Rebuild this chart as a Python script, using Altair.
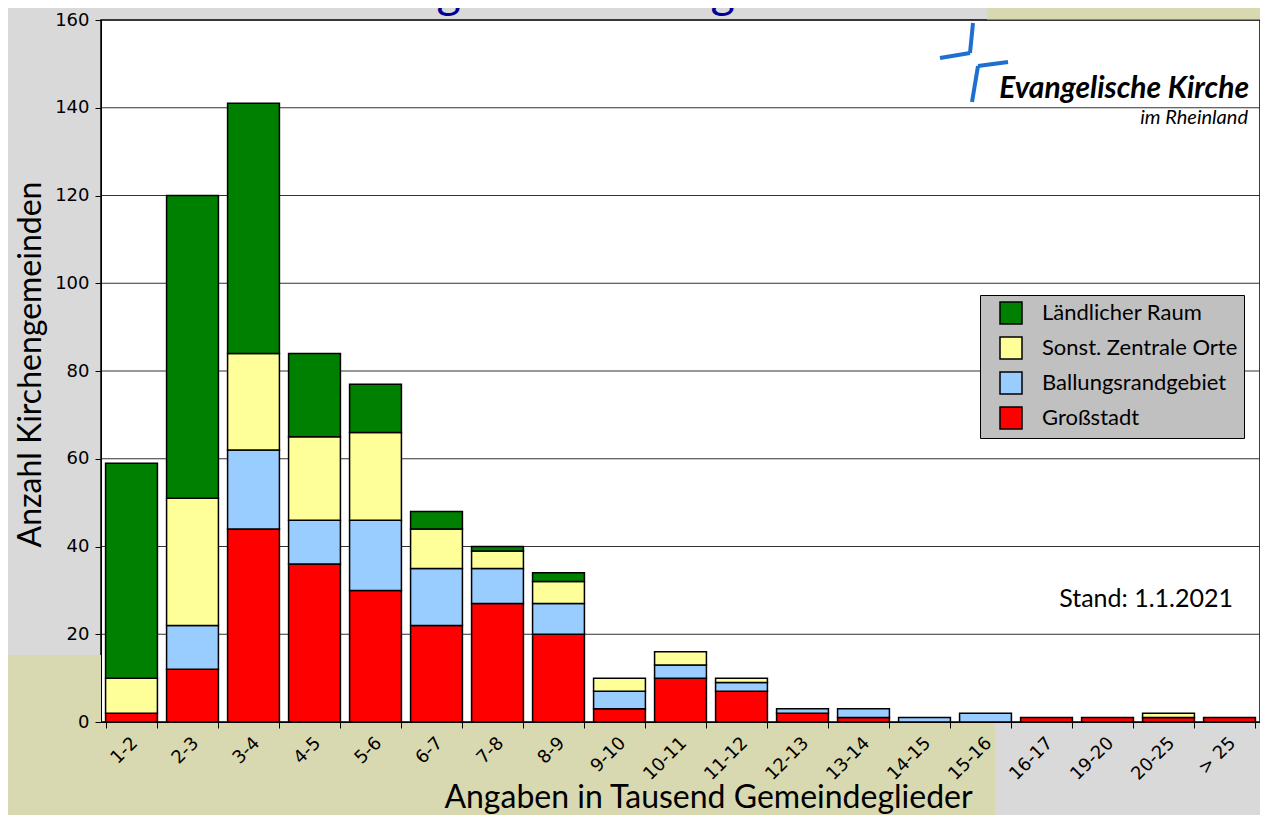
import altair as alt
import pandas as pd

# ---------------- data ----------------
categories = ["1-2", "2-3", "3-4", "4-5", "5-6", "6-7", "7-8", "8-9", "9-10", "10-11",
              "11-12", "12-13", "13-14", "14-15", "15-16", "16-17", "19-20", "20-25", "> 25"]
grossstadt = [2, 12, 44, 36, 30, 22, 27, 20, 3, 10, 7, 2, 1, 0, 0, 1, 1, 1, 1]
ballungsrand = [0, 10, 18, 10, 16, 13, 8, 7, 4, 3, 2, 1, 2, 1, 2, 0, 0, 0, 0]
zentrale_orte = [8, 29, 22, 19, 20, 9, 4, 5, 3, 3, 1, 0, 0, 0, 0, 0, 0, 1, 0]
laendlich = [49, 69, 57, 19, 11, 4, 1, 2, 0, 0, 0, 0, 0, 0, 0, 0, 0, 0, 0]

series_names = ["Ländlicher Raum", "Sonst. Zentrale Orte", "Ballungsrandgebiet", "Großstadt"]
series_colors = ["#008000", "#ffff99", "#99ccff", "#ff0000"]
y_ticks = [0, 20, 40, 60, 80, 100, 120, 140, 160]

title_text = "Größenverteilung der Kirchengemeinden"
stand_text = "Stand: 1.1.2021"
logo_line1 = "Evangelische Kirche"
logo_line2 = "im Rheinland"
x_title = "Angaben in Tausend Gemeindeglieder"
y_title = "Anzahl Kirchengemeinden"

stack_series = [("Großstadt", grossstadt), ("Ballungsrandgebiet", ballungsrand),
                ("Sonst. Zentrale Orte", zentrale_orte), ("Ländlicher Raum", laendlich)]
rows = []
for idx, (name, vals) in enumerate(stack_series):
    for c, v in zip(categories, vals):
        if v > 0:
            rows.append({"Kategorie": c, "Gebiet": name, "Anzahl": v, "Stapel": idx})
df = pd.DataFrame(rows)

W, H = 1159, 702
KHAKI = "#d8d9b1"
one = pd.DataFrame({"k": [0]})

y_scale = alt.Scale(domain=[0, 160], nice=False)
y_axis = alt.Axis(values=y_ticks, grid=False, tickSize=6, tickColor="black",
                  domainColor="black", labelFont="DejaVu Sans", labelFontSize=18,
                  labelColor="black", labelPadding=6, title=y_title, titleFont="Lato",
                  titleFontSize=32, titleFontWeight="normal", titleColor="black",
                  titleAngle=270, titleX=-71, titleY=344, titleAlign="center",
                  titleBaseline="middle", zindex=1)

# ---------------- decoration ----------------
def rect(x, x2, y, y2, color):
    return alt.Chart(one).mark_rect(color=color).encode(
        x=alt.value(x), x2=alt.value(x2), y=alt.value(y), y2=alt.value(y2))

deco = [
    rect(-93, 0, 635, 800, KHAKI),
    rect(-93, 894, H, 800, KHAKI),
    rect(886, 1170, -20, 0, KHAKI),
]

def seg(x, y, x2, y2):
    return alt.Chart(one).mark_rule(color="#1f6fd0", strokeWidth=4).encode(
        x=alt.value(x), y=alt.value(y), x2=alt.value(x2), y2=alt.value(y2))

logo = [
    seg(872, 3, 869, 33), seg(869, 33, 839, 38),
    seg(907, 42, 877, 46), seg(877, 46, 871, 82),
    alt.Chart(one).mark_text(font="Lato", fontSize=30, fontWeight="bold", fontStyle="italic",
                             align="right", baseline="alphabetic", color="black").encode(
        x=alt.value(1148), y=alt.value(78), text=alt.value(logo_line1)),
    alt.Chart(one).mark_text(font="Lato", fontSize=20, fontStyle="italic",
                             align="right", baseline="alphabetic", color="black").encode(
        x=alt.value(1147), y=alt.value(104), text=alt.value(logo_line2)),
]

grid = alt.Chart(pd.DataFrame({"v": y_ticks})).mark_rule(color="#333333", strokeWidth=1).encode(
    y=alt.Y("v:Q", scale=y_scale, axis=y_axis))

bars = alt.Chart(df).mark_bar(stroke="black", strokeWidth=1.5).encode(
    x=alt.X("Kategorie:N", sort=categories,
            scale=alt.Scale(domain=categories, paddingInner=0.15, paddingOuter=0.075),
            axis=alt.Axis(title=x_title, labelAngle=315, labelAlign="right", labelBaseline="middle",
                          labelFont="DejaVu Sans", labelFontSize=18, labelColor="black",
                          labelPadding=12, labelOffset=3, tickBand="extent", tickSize=6,
                          tickColor="black", domainColor="black", titleFont="Lato",
                          titleFontSize=32, titleFontWeight="normal", titleColor="black",
                          titleX=607, titleY=85, titleAlign="center",
                          titleBaseline="alphabetic", zindex=1)),
    y=alt.Y("Anzahl:Q", stack="zero", scale=y_scale, axis=y_axis),
    color=alt.Color("Gebiet:N", scale=alt.Scale(domain=series_names, range=series_colors),
                    legend=alt.Legend(title=None, orient="none", legendX=879, legendY=275,
                                      fillColor="#c0c0c0", strokeColor="black", padding=6,
                                      symbolType="square", symbolSize=484,
                                      symbolStrokeColor="black", symbolStrokeWidth=1.5,
                                      symbolOpacity=1, symbolOffset=13, labelOffset=19,
                                      labelFont="Lato", labelFontSize=22, labelColor="black",
                                      labelLimit=400, rowPadding=7)),
    order=alt.Order("Stapel:Q", sort="ascending"),
)

stand = alt.Chart(one).mark_text(font="Lato", fontSize=25, align="right", baseline="alphabetic",
                                 color="black").encode(
    x=alt.value(1132), y=alt.value(587), text=alt.value(stand_text))

title = alt.Chart(one).mark_text(font="Lato", fontSize=47, align="left", baseline="alphabetic",
                                 color="#000096").encode(
    x=alt.value(-1), y=alt.value(-12), text=alt.value(title_text))

chart = alt.layer(*deco, grid, bars, stand, *logo, title).properties(
    width=W, height=H,
    autosize=alt.AutoSizeParams(type="none"),
    padding={"left": 93, "top": 12, "right": 0, "bottom": 93},
    background="#d9d9d9",
).configure_view(stroke="black", strokeWidth=1.5, fill="white")

chart.save("out.html", embed_options={"renderer": "svg", "actions": False})
